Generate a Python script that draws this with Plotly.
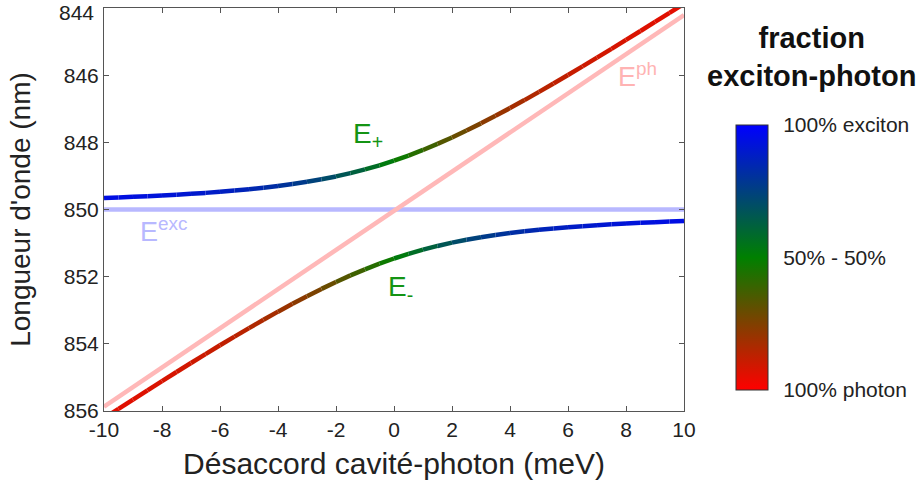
import plotly.graph_objects as go

# ---------------- data ----------------
detuning_meV = [-10, -9.5, -9, -8.5, -8, -7.5, -7, -6.5, -6, -5.5, -5, -4.5, -4, -3.5,
                -3, -2.5, -2, -1.5, -1, -0.5, 0, 0.5, 1, 1.5, 2, 2.5, 3, 3.5, 4, 4.5,
                5, 5.5, 6, 6.5, 7, 7.5, 8, 8.5, 9, 9.5, 10]

upper_nm = [849.656, 849.640, 849.623, 849.604, 849.582, 849.559, 849.533, 849.505,
            849.473, 849.437, 849.397, 849.352, 849.300, 849.242, 849.176, 849.101,
            849.015, 848.918, 848.807, 848.684, 848.546, 848.393, 848.227, 848.047,
            847.854, 847.649, 847.435, 847.211, 846.980, 846.742, 846.498, 846.249,
            845.995, 845.738, 845.478, 845.216, 844.951, 844.684, 844.415, 844.145,
            843.874]

lower_nm = [856.216, 855.937, 855.659, 855.384, 855.110, 854.839, 854.570, 854.305,
            854.043, 853.785, 853.532, 853.284, 853.042, 852.807, 852.581, 852.364,
            852.157, 851.963, 851.781, 851.613, 851.459, 851.320, 851.196, 851.085,
            850.987, 850.901, 850.826, 850.759, 850.701, 850.649, 850.604, 850.564,
            850.528, 850.496, 850.467, 850.441, 850.418, 850.397, 850.378, 850.360,
            850.344]

# exciton fraction along each branch (1 = 100% exciton, 0 = 100% photon)
upper_exciton_frac = [0.947, 0.942, 0.937, 0.931, 0.924, 0.916, 0.907, 0.896, 0.884,
                      0.870, 0.854, 0.834, 0.812, 0.787, 0.757, 0.724, 0.686, 0.644,
                      0.598, 0.550, 0.500, 0.450, 0.402, 0.356, 0.314, 0.276, 0.243,
                      0.213, 0.188, 0.166, 0.146, 0.130, 0.116, 0.104, 0.093, 0.084,
                      0.076, 0.069, 0.063, 0.058, 0.053]

lower_exciton_frac = [0.053, 0.058, 0.063, 0.069, 0.076, 0.084, 0.093, 0.104, 0.116,
                      0.130, 0.146, 0.166, 0.188, 0.213, 0.243, 0.276, 0.314, 0.356,
                      0.402, 0.450, 0.500, 0.550, 0.598, 0.644, 0.686, 0.724, 0.757,
                      0.787, 0.812, 0.834, 0.854, 0.870, 0.884, 0.896, 0.907, 0.916,
                      0.924, 0.931, 0.937, 0.942, 0.947]

exciton_x = [-10, 10]
exciton_nm = [850.0, 850.0]

photon_x = [-10, 10]
photon_nm = [855.87, 844.21]

x_ticks = [-10, -8, -6, -4, -2, 0, 2, 4, 6, 8, 10]
x_tick_text = ["-10", "-8", "-6", "-4", "-2", "0", "2", "4", "6", "8", "10"]
y_ticks = [844, 846, 848, 850, 852, 854, 856]
y_tick_text = ["844", "846", "848", "850", "852", "854", "856"]

cbar_vals = [0, 0.5, 1]
cbar_text = ["100% photon", "50% - 50%", "100% exciton"]

# ---------------- styling ----------------
FONT = "Liberation Sans, Arial, Helvetica, sans-serif"
RED = (255, 0, 0)
GREEN = (0, 128, 0)
BLUE = (0, 0, 255)
colorscale = [[0, "rgb(255,0,0)"], [0.5, "rgb(0,128,0)"], [1, "rgb(0,0,255)"]]

# plot-area geometry (pixels)
L, R, T, B = 104, 240, 8, 75
PW, PH = 924 - L - R, 486 - T - B


def px_x(px):
    return (px - L) / PW


def px_y(py):
    return 1 - (py - T) / PH


def frac_color(f):
    if f <= 0.5:
        t = f / 0.5
        a, b = RED, GREEN
    else:
        t = (f - 0.5) / 0.5
        a, b = GREEN, BLUE
    c = [round(a[i] + (b[i] - a[i]) * t) for i in range(3)]
    return f"rgb({c[0]},{c[1]},{c[2]})"


fig = go.Figure()

# bare exciton and photon lines
fig.add_trace(go.Scatter(x=exciton_x, y=exciton_nm, mode="lines",
                         line=dict(color="#b8b8ff", width=4.5),
                         hoverinfo="skip", showlegend=False))
fig.add_trace(go.Scatter(x=photon_x, y=photon_nm, mode="lines",
                         line=dict(color="#ffb8b8", width=4.5),
                         hoverinfo="skip", showlegend=False))

# polariton branches, coloured segment by segment by exciton fraction
for ys, fr in ((upper_nm, upper_exciton_frac), (lower_nm, lower_exciton_frac)):
    for i in range(len(detuning_meV) - 1):
        f = (fr[i] + fr[i + 1]) / 2
        fig.add_trace(go.Scatter(x=detuning_meV[i:i + 2], y=ys[i:i + 2], mode="lines",
                                 line=dict(color=frac_color(f), width=4.5),
                                 hoverinfo="skip", showlegend=False))

# invisible trace carrying the colour bar
fig.add_trace(go.Scatter(
    x=[0, 0], y=[850, 850], mode="markers", hoverinfo="skip", showlegend=False,
    marker=dict(size=1, opacity=0, color=[0, 1], cmin=0, cmax=1,
                colorscale=colorscale, showscale=True,
                colorbar=dict(
                    x=px_x(736), xanchor="left",
                    y=px_y(125), yanchor="top",
                    thickness=32, thicknessmode="pixels",
                    len=265, lenmode="pixels",
                    xpad=0, ypad=0,
                    outlinewidth=1, outlinecolor="#333333",
                    tickmode="array", tickvals=cbar_vals, ticktext=cbar_text,
                    ticks="outside", ticklen=11, tickcolor="rgba(0,0,0,0)",
                    tickfont=dict(family=FONT, size=21, color="#222222"),
                ))))

axis_common = dict(showgrid=False, zeroline=False, showline=True, linecolor="#555555",
                   linewidth=1, mirror="ticks", ticks="inside", ticklen=5,
                   tickcolor="#555555", automargin=False, ticklabeloverflow="allow",
                   tickfont=dict(family=FONT, size=21, color="#222222"))

# the top y label sits slightly below its tick (as in the reference), so it is
# drawn as an annotation; the axis keeps the tick itself
axis_y_text = [""] + y_tick_text[1:]

fig.update_layout(
    width=924, height=486,
    margin=dict(l=L, r=R, t=T, b=B, autoexpand=False),
    paper_bgcolor="white", plot_bgcolor="white",
    font=dict(family=FONT, color="#222222"),
    xaxis=dict(range=[-10, 10], tickmode="array", tickvals=x_ticks, ticktext=x_tick_text,
               title=dict(text="Désaccord cavité-photon (meV)",
                          font=dict(family=FONT, size=30, color="#222222"), standoff=12),
               **axis_common),
    yaxis=dict(range=[856, 844], tickmode="array", tickvals=y_ticks, ticktext=axis_y_text,
               title=dict(text="Longueur d'onde (nm)",
                          font=dict(family=FONT, size=28, color="#222222"), standoff=24),
               **axis_common),
    annotations=[
        dict(x=0, y=y_ticks[0], xref="paper", yref="y", text=y_tick_text[0],
             showarrow=False, xanchor="right", yanchor="middle", xshift=-8, yshift=-4,
             font=dict(family=FONT, size=21, color="#222222")),
        dict(x=-0.9, y=847.8, xref="x", yref="y", text="E<sub>+</sub>", showarrow=False,
             font=dict(family=FONT, size=28, color="#149414")),
        dict(x=0.24, y=852.35, xref="x", yref="y", text="E<sub>-</sub>", showarrow=False,
             font=dict(family=FONT, size=28, color="#149414")),
        dict(x=8.4, y=846.0, xref="x", yref="y", text="E<sup>ph</sup>", showarrow=False,
             font=dict(family=FONT, size=27, color="#ffb3b3")),
        dict(x=-7.95, y=850.6, xref="x", yref="y", text="E<sup>exc</sup>", showarrow=False,
             font=dict(family=FONT, size=27, color="#b8b8ff")),
        dict(x=px_x(811), y=px_y(57), xref="paper", yref="paper",
             text="<b>fraction<br>exciton-photon</b>", showarrow=False,
             xanchor="center", yanchor="middle", align="center",
             font=dict(family=FONT, size=29, color="#111111")),
    ],
)

fig.write_html("out.html", config={"displayModeBar": False},
               post_script="document.body.style.margin='0';document.body.style.overflow='hidden';")
